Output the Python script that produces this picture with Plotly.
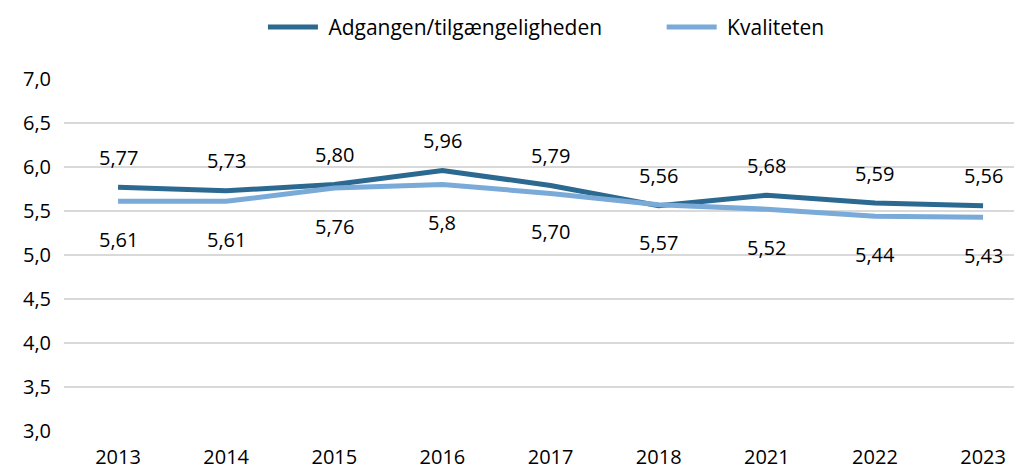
import plotly.graph_objects as go

years = ["2013", "2014", "2015", "2016", "2017", "2018", "2021", "2022", "2023"]
adgang = [5.77, 5.73, 5.80, 5.96, 5.79, 5.56, 5.68, 5.59, 5.56]
kvalitet = [5.61, 5.61, 5.76, 5.80, 5.70, 5.57, 5.52, 5.44, 5.43]
adgang_labels = ["5,77", "5,73", "5,80", "5,96", "5,79", "5,56", "5,68", "5,59", "5,56"]
kvalitet_labels = ["5,61", "5,61", "5,76", "5,8", "5,70", "5,57", "5,52", "5,44", "5,43"]
y_ticks = [3.0, 3.5, 4.0, 4.5, 5.0, 5.5, 6.0, 6.5, 7.0]
y_ticktext = ["3,0", "3,5", "4,0", "4,5", "5,0", "5,5", "6,0", "6,5", "7,0"]

DARK = "#2B6990"
LIGHT = "#79AAD8"
FONT = "Open Sans"
FS = 20

fig = go.Figure()
fig.add_trace(go.Scatter(x=years, y=adgang, mode="lines",
                         name="\u00a0Adgangen/tilgængeligheden" + "\u00a0" * 10,
                         line=dict(color=DARK, width=5)))
fig.add_trace(go.Scatter(x=years, y=kvalitet, mode="lines", name="\u00a0Kvaliteten",
                         line=dict(color=LIGHT, width=5)))

ann = []
for i, (y, t) in enumerate(zip(adgang, adgang_labels)):
    ann.append(dict(x=i, y=y, xref="x", yref="y", text=t, showarrow=False, yshift=30,
                    font=dict(family=FONT, size=FS, color="#000000")))
for i, (y, t) in enumerate(zip(kvalitet, kvalitet_labels)):
    ann.append(dict(x=i, y=y, xref="x", yref="y", text=t, showarrow=False, yshift=-38,
                    font=dict(family=FONT, size=FS, color="#000000")))

fig.update_layout(
    width=1014, height=462,
    margin=dict(l=56, r=0, t=71, b=39, autoexpand=False),
    paper_bgcolor="white", plot_bgcolor="white",
    font=dict(family=FONT, size=FS, color="#000000"),
    showlegend=True,
    legend=dict(orientation="h", xref="container", x=0.531, xanchor="center",
                yref="container", y=0.958, yanchor="middle", itemwidth=50,
                font=dict(family=FONT, size=21)),
    annotations=ann,
    xaxis=dict(type="category", range=[-0.5, 8.36], showgrid=False, showline=False,
               ticks="", ticklabelstandoff=12, tickfont=dict(family=FONT, size=FS)),
    yaxis=dict(range=[3, 7], tickvals=y_ticks, ticktext=y_ticktext, showgrid=True,
               gridcolor="#D9D9D9", gridwidth=2, zeroline=False, showline=False,
               ticks="", ticklabelstandoff=12, tickfont=dict(family=FONT, size=FS)),
)
fig.write_html("out.html")
